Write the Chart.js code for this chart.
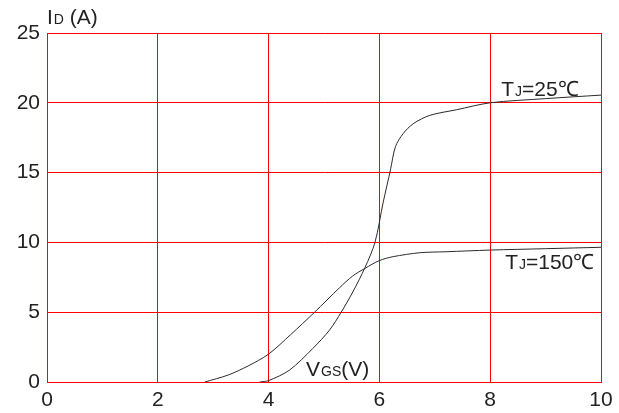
<!DOCTYPE html>
<html>
<head>
<meta charset="utf-8">
<script src="https://cdn.jsdelivr.net/npm/chart.js@4/dist/chart.umd.min.js"></script>
<style>
  html, body { margin: 0; padding: 0; background: #fff; }
  #wrap { width: 619px; height: 413px; }
</style>
</head>
<body>
<div id="wrap"><canvas id="chart" width="619" height="413"></canvas></div>
<script>
// VGS (V) vs ID (A)
var vgs25 = [3.84, 4.0, 4.38, 4.8, 5.1, 5.31, 5.52, 5.74, 5.92, 6.07, 6.2, 6.29, 6.43, 6.61, 6.91, 7.39, 8.0, 9.0, 10.0];
var id25  = [0, 0.1, 0.86, 2.41, 3.72, 5.0, 6.45, 8.2, 10.0, 12.9, 15.2, 16.86, 17.8, 18.5, 19.1, 19.5, 20.0, 20.3, 20.55];

var vgs150 = [2.85, 3.27, 3.63, 4.0, 4.4, 4.83, 5.28, 5.52, 5.74, 6.0, 6.25, 6.73, 7.2, 8.0, 9.0, 10.0];
var id150  = [0, 0.5, 1.15, 2.0, 3.4, 5.0, 6.75, 7.6, 8.14, 8.7, 8.98, 9.26, 9.33, 9.45, 9.55, 9.65];

var xTicks = [0, 2, 4, 6, 8, 10];
var yTicks = [0, 5, 10, 15, 20, 25];

var FONT = '"Liberation Sans", Arial, sans-serif';
var INK = '#222';

function pts(xs, ys) {
  return xs.map(function (v, i) { return {x: v, y: ys[i]}; });
}

// draws "T" + small "J" + "=25℃" style text, left/baseline anchored
function subText(ctx, x, y, big, small, rest) {
  ctx.font = '21px ' + FONT;
  ctx.fillText(big, x, y);
  x += ctx.measureText(big).width + 1;
  ctx.font = '14px ' + FONT;
  ctx.fillText(small, x, y);
  x += ctx.measureText(small).width;
  ctx.font = '21px ' + FONT;
  ctx.fillText(rest, x, y);
}

var labels = {
  id: 'labels',
  afterDraw: function (chart) {
    var ctx = chart.ctx, xs = chart.scales.x, ys = chart.scales.y;
    ctx.save();
    ctx.fillStyle = INK;
    ctx.textAlign = 'left';
    ctx.textBaseline = 'alphabetic';
    subText(ctx, chart.chartArea.left, chart.chartArea.top - 9, 'I', 'D', ' (A)');
    subText(ctx, xs.getPixelForValue(4.675), ys.getPixelForValue(0.43), 'V', 'GS', '(V)');
    subText(ctx, xs.getPixelForValue(8.2), ys.getPixelForValue(20.49), 'T', 'J', '=25\u2103');
    subText(ctx, xs.getPixelForValue(8.27), ys.getPixelForValue(8.09), 'T', 'J', '=150\u2103');
    ctx.restore();
  }
};

new Chart(document.getElementById('chart'), {
  type: 'scatter',
  data: {
    datasets: [
      {label: 'TJ=25℃', data: pts(vgs25, id25)},
      {label: 'TJ=150℃', data: pts(vgs150, id150)}
    ]
  },
  options: {
    responsive: false,
    animation: false,
    showLine: true,
    layout: {padding: {top: 33, right: 18, left: 0, bottom: 0}},
    elements: {
      point: {radius: 0},
      line: {borderColor: '#2b2b2b', borderWidth: 1, tension: 0.3, fill: false}
    },
    plugins: {legend: {display: false}, tooltip: {enabled: false}},
    scales: {
      x: {
        type: 'linear', min: 0, max: 10,
        afterFit: function (s) { s.height = 31; },
        afterBuildTicks: function (s) { s.ticks = xTicks.map(function (v) { return {value: v}; }); },
        grid: {color: '#ff0000', lineWidth: 1, drawTicks: false},
        border: {color: '#ff0000', width: 1},
        ticks: {color: INK, font: {family: FONT, size: 21}, padding: 6, maxRotation: 0}
      },
      y: {
        type: 'linear', min: 0, max: 25,
        afterFit: function (s) { s.width = 47; },
        afterBuildTicks: function (s) { s.ticks = yTicks.map(function (v) { return {value: v}; }); },
        grid: {color: '#ff0000', lineWidth: 1, drawTicks: false},
        border: {color: '#ff0000', width: 1},
        ticks: {color: INK, font: {family: FONT, size: 21}, padding: 7}
      }
    }
  },
  plugins: [labels]
});
</script>
</body>
</html>
